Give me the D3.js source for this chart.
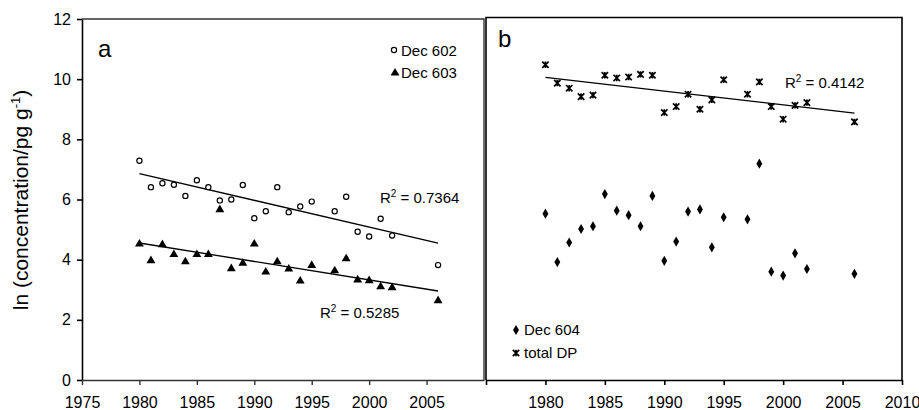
<!DOCTYPE html>
<html>
<head>
<meta charset="utf-8">
<script src="https://cdn.jsdelivr.net/npm/d3@7"></script>
<style>
  body { margin: 0; background: #fff; }
  svg text { font-family: "Liberation Sans", Arial, sans-serif; fill: #000; }
</style>
</head>
<body>
<div id="chart"></div>
<script>
// data (ln of concentration, pg/g)
let yearsA = [1980, 1981, 1982, 1983, 1984, 1985, 1986, 1987, 1988, 1989, 1990,
    1991, 1992, 1993, 1994, 1995, 1997, 1998, 1999, 2000, 2001, 2002, 2006];
let dec602 = [7.29, 6.41, 6.54, 6.49, 6.12, 6.64, 6.41, 5.97, 6.0, 6.48, 5.38,
    5.61, 6.41, 5.58, 5.77, 5.93, 5.61, 6.09, 4.93, 4.77, 5.36, 4.8, 3.82];
let dec603 = [4.52, 3.97, 4.5, 4.17, 3.93, 4.17, 4.17, 5.66, 3.7, 3.88, 4.52,
    3.59, 3.93, 3.69, 3.29, 3.81, 3.63, 4.03, 3.33, 3.3, 3.1, 3.07, 2.64];
let dec604 = [5.53, 3.92, 4.57, 5.02, 5.11, 6.18, 5.63, 5.48, 5.11, 6.12, 3.96,
    4.6, 5.6, 5.67, 4.41, 5.41, 5.34, 7.19, 3.6, 3.47, 4.21, 3.69, 3.53];
let totalDP = [10.48, 9.87, 9.7, 9.42, 9.47, 10.13, 10.04, 10.07, 10.16, 10.13, 8.89,
    9.09, 9.5, 9.0, 9.31, 9.98, 9.5, 9.91, 9.09, 8.67, 9.13, 9.22, 8.58];
let yTicks = [0, 2, 4, 6, 8, 10, 12];
let xTicksA = [1975, 1980, 1985, 1990, 1995, 2000, 2005];
let xTicksB = [1975, 1980, 1985, 1990, 1995, 2000, 2005, 2010];
let r2 = {a1: "0.7364", a2: "0.5285", b: "0.4142"};

let width = 919, height = 410;
let svg = d3.select("#chart").append("svg")
    .attr("width", width)
    .attr("height", height);

let y = d3.scaleLinear().domain([0, 12]).range([380, 19]);
let xA = d3.scaleLinear().domain([1975, 2010]).range([82, 484]);
let xB = d3.scaleLinear().domain([1975, 2010]).range([486, 902]);

// least squares fit for the trend lines
function fit(xs, ys) {
    let mx = d3.mean(xs), my = d3.mean(ys);
    let num = d3.sum(xs, (d, i) => (d - mx) * (ys[i] - my));
    let den = d3.sum(xs, d => (d - mx) * (d - mx));
    let b = num / den;
    return x => my + b * (x - mx);
}

let symTri = d3.symbol().type(d3.symbolTriangle).size(34);
let symDia = d3.symbol().type(d3.symbolDiamond).size(30);

function star(g, cx, cy) {
    let s = 3.2;
    g.append("path")
        .attr("d", `M${cx - s},${cy - s}L${cx + s},${cy + s}M${cx - s},${cy + s}L${cx + s},${cy - s}M${cx},${cy - s}L${cx},${cy + s}`)
        .attr("stroke", "#000")
        .attr("stroke-width", 1.7)
        .attr("fill", "none");
}

function trend(g, x, xs, ys) {
    let f = fit(xs, ys);
    let x0 = d3.min(xs), x1 = d3.max(xs);
    g.append("line")
        .attr("x1", x(x0)).attr("y1", y(f(x0)))
        .attr("x2", x(x1)).attr("y2", y(f(x1)))
        .attr("stroke", "#000")
        .attr("stroke-width", 1.3);
}

function r2label(g, px, py, val) {
    let t = g.append("text")
        .attr("x", px).attr("y", py)
        .style("font-size", "15px");
    t.append("tspan").text("R");
    t.append("tspan").attr("dy", -6).style("font-size", "10px").text("2");
    t.append("tspan").attr("dy", 6).text(" = " + val);
}

// ---- panel a ----
let gA = svg.append("g");

gA.append("g")
    .attr("transform", "translate(82,0)")
    .call(d3.axisLeft(y).tickValues(yTicks).tickSize(5).tickSizeOuter(0).tickPadding(6))
    .call(g => g.selectAll("text").style("font-size", "16px"))
    .call(g => g.selectAll("path,line").attr("stroke-width", 1.6));

gA.append("g")
    .attr("transform", "translate(0,380)")
    .call(d3.axisBottom(xA).tickValues(xTicksA).tickSize(5).tickSizeOuter(0).tickPadding(12).tickFormat(d3.format("d")))
    .call(g => g.selectAll("text").style("font-size", "16px"))
    .call(g => g.selectAll("path,line").attr("stroke-width", 1.4).attr("stroke", "#333"));

gA.append("path")
    .attr("d", `M82,19H484V380`)
    .attr("fill", "none")
    .attr("stroke", "#333")
    .attr("stroke-width", 1.4);

trend(gA, xA, yearsA, dec602);
trend(gA, xA, yearsA, dec603);

gA.selectAll("circle.d602")
    .data(yearsA)
    .join("circle")
    .attr("class", "d602")
    .attr("cx", d => xA(d))
    .attr("cy", (d, i) => y(dec602[i]))
    .attr("r", 2.6)
    .attr("fill", "#fff")
    .attr("stroke", "#000")
    .attr("stroke-width", 1.2);

gA.selectAll("path.d603")
    .data(yearsA)
    .join("path")
    .attr("class", "d603")
    .attr("d", symTri)
    .attr("transform", (d, i) => `translate(${xA(d)},${y(dec603[i])})`)
    .attr("fill", "#000");

gA.append("text").attr("x", 98).attr("y", 57).style("font-size", "24px").text("a");

// legend a
gA.append("circle").attr("cx", 394).attr("cy", 50).attr("r", 2.6)
    .attr("fill", "#fff").attr("stroke", "#000").attr("stroke-width", 1.2);
gA.append("text").attr("x", 401).attr("y", 56).style("font-size", "15px").text("Dec 602");
gA.append("path").attr("d", symTri).attr("transform", "translate(395,73)").attr("fill", "#000");
gA.append("text").attr("x", 401).attr("y", 78).style("font-size", "15px").text("Dec 603");

r2label(gA, 380, 203, r2.a1);
r2label(gA, 320, 318, r2.a2);

// ---- panel b ----
let gB = svg.append("g");

gB.append("g")
    .attr("transform", "translate(0,380)")
    .call(d3.axisBottom(xB).tickValues(xTicksB).tickSize(5).tickSizeOuter(0).tickPadding(12)
        .tickFormat(d => d === 1975 ? "" : d3.format("d")(d)))
    .call(g => g.selectAll("text").style("font-size", "16px"))
    .call(g => g.selectAll("path,line").attr("stroke-width", 1.6));

gB.append("path")
    .attr("d", `M486,380V17.5H902V380`)
    .attr("fill", "none")
    .attr("stroke", "#000")
    .attr("stroke-width", 1.6);

trend(gB, xB, yearsA, totalDP);

yearsA.forEach((d, i) => star(gB, xB(d), y(totalDP[i])));

gB.selectAll("path.d604")
    .data(yearsA)
    .join("path")
    .attr("class", "d604")
    .attr("d", symDia)
    .attr("transform", (d, i) => `translate(${xB(d)},${y(dec604[i])})`)
    .attr("fill", "#000");

gB.append("text").attr("x", 498).attr("y", 47).style("font-size", "24px").text("b");

r2label(gB, 785, 88, r2.b);

// legend b
gB.append("path").attr("d", symDia).attr("transform", "translate(516,330)").attr("fill", "#000");
gB.append("text").attr("x", 524).attr("y", 335).style("font-size", "15px").text("Dec 604");
star(gB, 516, 353);
gB.append("text").attr("x", 524).attr("y", 358).style("font-size", "15px").text("total DP");

// y axis title
let yl = svg.append("text")
    .attr("transform", "translate(28,200) rotate(-90)")
    .attr("text-anchor", "middle")
    .style("font-size", "21px");
yl.append("tspan").text("ln (concentration/pg g");
yl.append("tspan").attr("dy", -8).style("font-size", "13px").text("-1");
yl.append("tspan").attr("dy", 8).text(")");
</script>
</body>
</html>
